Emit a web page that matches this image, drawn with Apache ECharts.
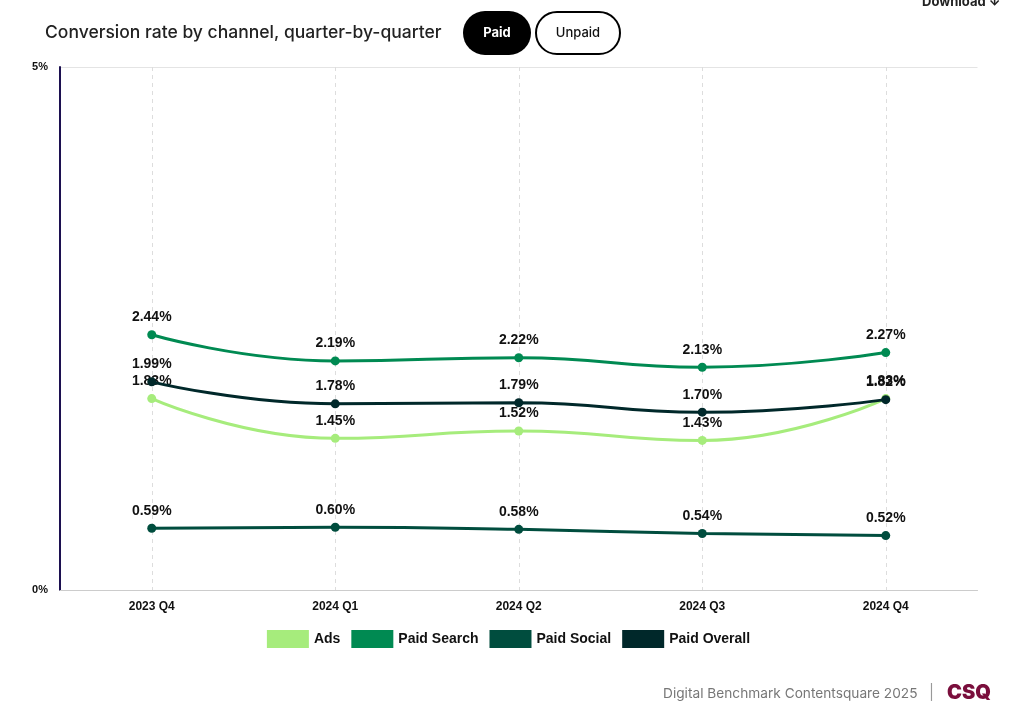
<!DOCTYPE html>
<html><head><meta charset="utf-8">
<script src="https://cdn.jsdelivr.net/npm/echarts@6/dist/echarts.min.js"></script>
<style>html,body{margin:0;padding:0;background:#fff}#c{width:1017px;height:716px}</style>
</head><body><div id="c"></div>
<script>
const categories = ['2023 Q4','2024 Q1','2024 Q2','2024 Q3','2024 Q4'];
const ads = [1.83, 1.45, 1.52, 1.43, 1.83];
const paidSearch = [2.44, 2.19, 2.22, 2.13, 2.27];
const paidSocial = [0.59, 0.60, 0.58, 0.54, 0.52];
const paidOverall = [1.99, 1.78, 1.79, 1.70, 1.82];
const seriesNames = ['Ads','Paid Search','Paid Social','Paid Overall'];
const colors = ['#a6ec7c','#008a52','#004d3e','#00282a'];
const seriesData = [ads, paidSearch, paidSocial, paidOverall];

const chart = echarts.init(document.getElementById('c'));
const FONT = 'Arial, "Liberation Sans", sans-serif';
chart.setOption({
  animation:false,
  textStyle:{fontFamily:FONT},
  grid:{left:60,right:39.5,top:67,bottom:126,containLabel:false},
  legend:{
    data:seriesNames, bottom:63, left:'center', itemWidth:42, itemHeight:18, itemGap:11,
    icon:'rect',
    textStyle:{fontWeight:'bold',fontSize:14,color:'#111',fontFamily:FONT}
  },
  xAxis:{
    type:'category', data:categories, boundaryGap:true,
    axisLine:{show:true,lineStyle:{color:'#cccccc',width:1}},
    axisTick:{show:false},
    axisLabel:{fontWeight:'bold',fontSize:12,color:'#111',margin:11},
    splitLine:{show:true,alignWithLabel:true,lineStyle:{color:'#dddddd',type:[4,4],width:1}}
  },
  yAxis:{
    type:'value', min:0, max:5, interval:5,
    axisLine:{show:true,lineStyle:{color:'#1c1050',width:2}},
    axisTick:{show:false},
    axisLabel:{formatter:'{value}%',fontWeight:'bold',fontSize:11,color:'#111',margin:12},
    splitLine:{show:true,lineStyle:{color:'#e4e4e4',width:1}}
  },
  series: seriesNames.map((n,i)=>({
    name:n, type:'line', smooth:true, data:seriesData[i],
    symbol:'circle', symbolSize:9,
    itemStyle:{color:colors[i]},
    lineStyle:{color:colors[i],width:3},
    label:{show:true,position:'top',distance:6,formatter:p=>p.value.toFixed(2)+'%',
      fontWeight:'bold',fontSize:14,color:'#111',fontFamily:FONT},
    z: i===0?2:3
  })),
  graphic:[
    {type:'text',left:45,top:24,style:{text:'Conversion rate by channel, quarter-by-quarter',fontSize:17.5,fontWeight:500,fill:'#222',fontFamily:'Inter, sans-serif'}},
    {type:'rect',shape:{x:463,y:11,width:68,height:44,r:22},style:{fill:'#000'}},
    {type:'text',x:497,y:33,style:{text:'Paid',fontSize:13,fontWeight:'bold',fill:'#fff',align:'center',verticalAlign:'middle',fontFamily:'Inter, sans-serif'}},
    {type:'rect',shape:{x:536,y:12,width:84,height:42,r:21},style:{fill:'#fff',stroke:'#000',lineWidth:2}},
    {type:'text',x:578,y:33,style:{text:'Unpaid',fontSize:13,fontWeight:500,fill:'#111',align:'center',verticalAlign:'middle',fontFamily:'Inter, sans-serif'}},
    {type:'text',x:922,y:-4,style:{text:'Download \u2193',fontSize:13,fontWeight:'bold',fill:'#222',fontFamily:'Inter, sans-serif'}},
    {type:'text',x:663,y:687,style:{text:'Digital Benchmark Contentsquare 2025',fontSize:13.7,fill:'#777',fontFamily:'Inter, sans-serif'}},
    {type:'text',x:929,y:685,style:{text:'|',fontSize:15,fill:'#999',fontFamily:'Inter, sans-serif'}},
    {type:'text',x:947,y:683,style:{text:'CSQ',fontSize:20,fontWeight:'900',fill:'#7a0e3c',fontFamily:'Inter, sans-serif'}}
  ]
});
</script></body></html>
